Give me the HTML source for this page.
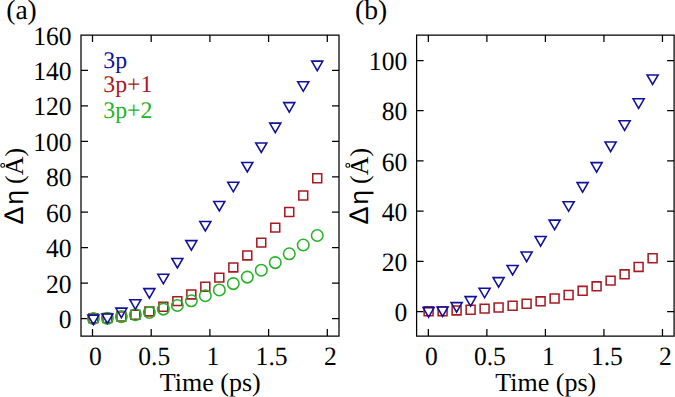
<!DOCTYPE html>
<html><head><meta charset="utf-8"><title>Delta eta vs time</title>
<style>html,body{margin:0;padding:0;background:#fff;width:675px;height:397px;overflow:hidden}svg{display:block}</style>
</head><body><svg width="675" height="397" viewBox="0 0 675 397" font-family='"Liberation Serif", serif' text-rendering="geometricPrecision"><path d="M81 35H339V336H81ZM92.50 336v-7M92.50 35v7M151.20 336v-7M151.20 35v7M209.90 336v-7M209.90 35v7M268.60 336v-7M268.60 35v7M327.30 336v-7M327.30 35v7M81 318.50h7M339 318.50h-7M81 283.07h7M339 283.07h-7M81 247.64h7M339 247.64h-7M81 212.21h7M339 212.21h-7M81 176.78h7M339 176.78h-7M81 141.35h7M339 141.35h-7M81 105.92h7M339 105.92h-7M81 70.49h7M339 70.49h-7M81 35.06h7M339 35.06h-7" fill="none" stroke="#000" stroke-width="1.25"/><path d="M416.6 35H674.1V336H416.6ZM428.35 336v-7M428.35 35v7M486.88 336v-7M486.88 35v7M545.41 336v-7M545.41 35v7M603.94 336v-7M603.94 35v7M662.47 336v-7M662.47 35v7M416.6 311.50h7M674.1 311.50h-7M416.6 261.30h7M674.1 261.30h-7M416.6 211.10h7M674.1 211.10h-7M416.6 160.90h7M674.1 160.90h-7M416.6 110.70h7M674.1 110.70h-7M416.6 60.50h7M674.1 60.50h-7" fill="none" stroke="#000" stroke-width="1.25"/><path d="M88.95 313.85h8.90v8.90h-8.90ZM102.94 313.55h8.90v8.90h-8.90ZM116.93 312.05h8.90v8.90h-8.90ZM130.92 310.25h8.90v8.90h-8.90ZM144.91 306.95h8.90v8.90h-8.90ZM158.90 302.25h8.90v8.90h-8.90ZM172.89 296.65h8.90v8.90h-8.90ZM186.88 289.95h8.90v8.90h-8.90ZM200.87 282.25h8.90v8.90h-8.90ZM214.86 273.15h8.90v8.90h-8.90ZM228.85 262.95h8.90v8.90h-8.90ZM242.84 250.95h8.90v8.90h-8.90ZM256.83 238.15h8.90v8.90h-8.90ZM270.82 223.15h8.90v8.90h-8.90ZM284.81 207.55h8.90v8.90h-8.90ZM298.80 191.05h8.90v8.90h-8.90ZM312.79 173.75h8.90v8.90h-8.90Z" fill="none" stroke="#a81a22" stroke-width="1.55"/><g fill="none" stroke="#26b226" stroke-width="1.55"><circle cx="93.40" cy="318.50" r="5.75"/><circle cx="107.39" cy="318.30" r="5.75"/><circle cx="121.38" cy="316.60" r="5.75"/><circle cx="135.37" cy="314.70" r="5.75"/><circle cx="149.36" cy="312.40" r="5.75"/><circle cx="163.35" cy="309.10" r="5.75"/><circle cx="177.34" cy="305.50" r="5.75"/><circle cx="191.33" cy="300.80" r="5.75"/><circle cx="205.32" cy="295.70" r="5.75"/><circle cx="219.31" cy="289.90" r="5.75"/><circle cx="233.30" cy="283.60" r="5.75"/><circle cx="247.29" cy="277.10" r="5.75"/><circle cx="261.28" cy="270.20" r="5.75"/><circle cx="275.27" cy="262.60" r="5.75"/><circle cx="289.26" cy="253.80" r="5.75"/><circle cx="303.25" cy="245.00" r="5.75"/><circle cx="317.24" cy="235.50" r="5.75"/></g><path d="M87.85 315.10H98.95L93.40 324.70ZM101.84 313.90H112.94L107.39 323.50ZM115.83 308.10H126.93L121.38 317.70ZM129.82 299.70H140.92L135.37 309.30ZM143.81 288.60H154.91L149.36 298.20ZM157.80 274.20H168.90L163.35 283.80ZM171.79 258.40H182.89L177.34 268.00ZM185.78 240.60H196.88L191.33 250.20ZM199.77 221.40H210.87L205.32 231.00ZM213.76 201.40H224.86L219.31 211.00ZM227.75 182.20H238.85L233.30 191.80ZM241.74 162.40H252.84L247.29 172.00ZM255.73 142.90H266.83L261.28 152.50ZM269.72 123.10H280.82L275.27 132.70ZM283.71 102.60H294.81L289.26 112.20ZM297.70 81.70H308.80L303.25 91.30ZM311.69 61.10H322.79L317.24 70.70Z" fill="none" stroke="#10109c" stroke-width="1.55" stroke-linejoin="miter"/><path d="M424.15 306.85h8.90v8.90h-8.90ZM438.15 306.75h8.90v8.90h-8.90ZM452.15 305.95h8.90v8.90h-8.90ZM466.15 305.25h8.90v8.90h-8.90ZM480.15 304.15h8.90v8.90h-8.90ZM494.15 303.05h8.90v8.90h-8.90ZM508.15 301.25h8.90v8.90h-8.90ZM522.15 299.25h8.90v8.90h-8.90ZM536.15 296.85h8.90v8.90h-8.90ZM550.15 294.05h8.90v8.90h-8.90ZM564.15 290.55h8.90v8.90h-8.90ZM578.15 286.35h8.90v8.90h-8.90ZM592.15 281.85h8.90v8.90h-8.90ZM606.15 276.15h8.90v8.90h-8.90ZM620.15 269.85h8.90v8.90h-8.90ZM634.15 262.45h8.90v8.90h-8.90ZM648.15 253.75h8.90v8.90h-8.90Z" fill="none" stroke="#a81a22" stroke-width="1.55"/><path d="M423.05 307.60H434.15L428.60 317.20ZM437.05 306.90H448.15L442.60 316.50ZM451.05 302.60H462.15L456.60 312.20ZM465.05 296.60H476.15L470.60 306.20ZM479.05 288.20H490.15L484.60 297.80ZM493.05 277.60H504.15L498.60 287.20ZM507.05 265.40H518.15L512.60 275.00ZM521.05 252.00H532.15L526.60 261.60ZM535.05 236.50H546.15L540.60 246.10ZM549.05 220.10H560.15L554.60 229.70ZM563.05 201.70H574.15L568.60 211.30ZM577.05 182.60H588.15L582.60 192.20ZM591.05 162.60H602.15L596.60 172.20ZM605.05 142.00H616.15L610.60 151.60ZM619.05 120.80H630.15L624.60 130.40ZM633.05 98.80H644.15L638.60 108.40ZM647.05 74.90H658.15L652.60 84.50Z" fill="none" stroke="#10109c" stroke-width="1.55" stroke-linejoin="miter"/><text transform="translate(71.5 328.0) scale(0.965 1)" font-size="26.5" text-anchor="end">0</text><text transform="translate(71.5 292.6) scale(0.965 1)" font-size="26.5" text-anchor="end">20</text><text transform="translate(71.5 257.1) scale(0.965 1)" font-size="26.5" text-anchor="end">40</text><text transform="translate(71.5 221.7) scale(0.965 1)" font-size="26.5" text-anchor="end">60</text><text transform="translate(71.5 186.3) scale(0.965 1)" font-size="26.5" text-anchor="end">80</text><text transform="translate(71.5 150.8) scale(0.965 1)" font-size="26.5" text-anchor="end">100</text><text transform="translate(71.5 115.4) scale(0.965 1)" font-size="26.5" text-anchor="end">120</text><text transform="translate(71.5 80.0) scale(0.965 1)" font-size="26.5" text-anchor="end">140</text><text transform="translate(71.5 44.6) scale(0.965 1)" font-size="26.5" text-anchor="end">160</text><text transform="translate(407.2 321.1) scale(0.965 1)" font-size="26.5" text-anchor="end">0</text><text transform="translate(407.2 270.9) scale(0.965 1)" font-size="26.5" text-anchor="end">20</text><text transform="translate(407.2 220.7) scale(0.965 1)" font-size="26.5" text-anchor="end">40</text><text transform="translate(407.2 170.5) scale(0.965 1)" font-size="26.5" text-anchor="end">60</text><text transform="translate(407.2 120.3) scale(0.965 1)" font-size="26.5" text-anchor="end">80</text><text transform="translate(407.2 70.1) scale(0.965 1)" font-size="26.5" text-anchor="end">100</text><text transform="translate(95.5 364.8) scale(0.965 1)" font-size="26.5" text-anchor="middle">0</text><text transform="translate(431.4 364.8) scale(0.965 1)" font-size="26.5" text-anchor="middle">0</text><text transform="translate(154.2 364.8) scale(0.965 1)" font-size="26.5" text-anchor="middle">0.5</text><text transform="translate(489.9 364.8) scale(0.965 1)" font-size="26.5" text-anchor="middle">0.5</text><text transform="translate(212.9 364.8) scale(0.965 1)" font-size="26.5" text-anchor="middle">1</text><text transform="translate(548.4 364.8) scale(0.965 1)" font-size="26.5" text-anchor="middle">1</text><text transform="translate(271.6 364.8) scale(0.965 1)" font-size="26.5" text-anchor="middle">1.5</text><text transform="translate(606.9 364.8) scale(0.965 1)" font-size="26.5" text-anchor="middle">1.5</text><text transform="translate(330.3 364.8) scale(0.965 1)" font-size="26.5" text-anchor="middle">2</text><text transform="translate(665.5 364.8) scale(0.965 1)" font-size="26.5" text-anchor="middle">2</text><text x="210.3" y="391.4" font-size="26" text-anchor="middle" fill="#000" >Time (ps)</text><text x="545.8" y="391.4" font-size="26" text-anchor="middle" fill="#000" >Time (ps)</text><text x="6.2" y="18.9" font-size="27.6" text-anchor="start" fill="#000" >(a)</text><text x="355" y="19.3" font-size="27.6" text-anchor="start" fill="#000" >(b)</text><text x="103.3" y="67.7" font-size="23.8" text-anchor="start" fill="#10109c" >3p</text><text x="103.3" y="92.4" font-size="23.8" text-anchor="start" fill="#a81a22" >3p+1</text><text x="103.3" y="117.8" font-size="23.8" text-anchor="start" fill="#26b226" >3p+2</text><g transform="translate(22.9,224.5) rotate(-90)"><text x="0" y="0" font-family='"Liberation Sans", sans-serif' font-size="27">Δ</text><text x="20" y="0" font-family='"Liberation Sans", sans-serif' font-size="26">η</text><text x="40.5" y="0" font-size="26">(A)</text><circle cx="59.1" cy="-20.2" r="1.9" fill="none" stroke="#000" stroke-width="1.1"/></g><g transform="translate(368.0,224.5) rotate(-90)"><text x="0" y="0" font-family='"Liberation Sans", sans-serif' font-size="27">Δ</text><text x="20" y="0" font-family='"Liberation Sans", sans-serif' font-size="26">η</text><text x="40.5" y="0" font-size="26">(A)</text><circle cx="59.1" cy="-20.2" r="1.9" fill="none" stroke="#000" stroke-width="1.1"/></g></svg></body></html>
